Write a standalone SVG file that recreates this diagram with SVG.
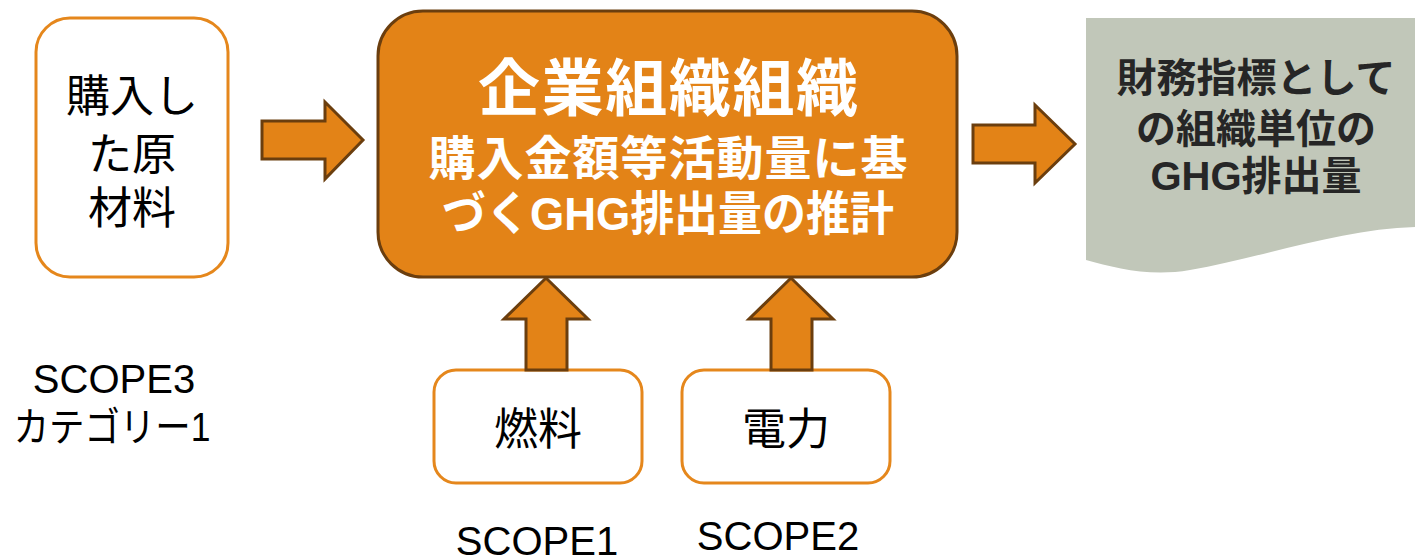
<svg xmlns="http://www.w3.org/2000/svg" width="1415" height="558" viewBox="0 0 1415 558">
<style>
.obox{fill:#FFFFFF;stroke:#E5871C;stroke-width:3}
.arrow{fill:#E38317;stroke:#6B3E0E;stroke-width:3;stroke-linejoin:miter}
.jp{font-family:"Liberation Sans","Noto Sans CJK JP",sans-serif;text-anchor:middle}
.blk{fill:#000000;font-size:44px}
.wb{fill:#FFFFFF;font-weight:bold}
.dk{fill:#262626;font-weight:bold;font-size:40px}
.scope{font-family:"Liberation Sans","Noto Sans CJK JP",sans-serif;font-size:40px;fill:#000000;text-anchor:middle}
</style>
<rect width="1415" height="558" fill="#FFFFFF"/>
<g id="node-material">
<rect class="obox" x="36" y="18" width="192" height="259" rx="34"/>
<text class="jp blk"><tspan x="132" y="112">購入し</tspan><tspan x="132" y="170">た原</tspan><tspan x="132" y="224">材料</tspan></text>
</g>
<g id="node-main">
<rect x="378" y="11" width="579" height="266" rx="45" fill="#E38317" stroke="#6B3E0E" stroke-width="3"/>
<text class="jp wb" x="668" y="111" font-size="62" textLength="380" lengthAdjust="spacing">企業組織組織</text>
<text class="jp wb" x="668" y="175" font-size="47" textLength="479" lengthAdjust="spacing">購入金額等活動量に基</text>
<text class="jp wb" x="668" y="230" font-size="47" textLength="452" lengthAdjust="spacingAndGlyphs">づくGHG排出量の推計</text>
</g>
<g id="node-result">
<path d="M1086,18 H1415 V227 C1340,229 1260,258 1190,270 C1150,277 1115,268 1086,260 Z" fill="#C1C7B9"/>
<text class="jp dk"><tspan x="1256" y="92">財務指標として</tspan><tspan x="1256" y="143">の組織単位の</tspan><tspan x="1256" y="190">GHG排出量</tspan></text>
</g>
<g id="node-fuel">
<rect class="obox" x="434" y="370" width="208" height="113" rx="22"/>
<text class="jp blk" x="538" y="445">燃料</text>
</g>
<g id="node-power">
<rect class="obox" x="682" y="370" width="208" height="113" rx="22"/>
<text class="jp blk" x="786" y="445">電力</text>
</g>
<g id="labels">
<text class="scope" x="114" y="393">SCOPE3</text>
<text class="jp" x="112" y="441" font-size="40" fill="#000000" textLength="197" lengthAdjust="spacingAndGlyphs">カテゴリー1</text>
<text class="scope" x="537" y="555">SCOPE1</text>
<text class="scope" x="778" y="550">SCOPE2</text>
</g>
<g id="connectors">
<path class="arrow" d="M262,121 H325 V102 L363,140 L325,179 V159 H262 Z"/>
<path class="arrow" d="M973,125 H1035 V105 L1075,144 L1035,183 V163 H973 Z"/>
<path class="arrow" d="M526,370 V319 H504 L546,278 L588,319 H567 V370 Z"/>
<path class="arrow" d="M771,370 V319 H749 L791,278 L833,319 H812 V370 Z"/>
</g>
</svg>
